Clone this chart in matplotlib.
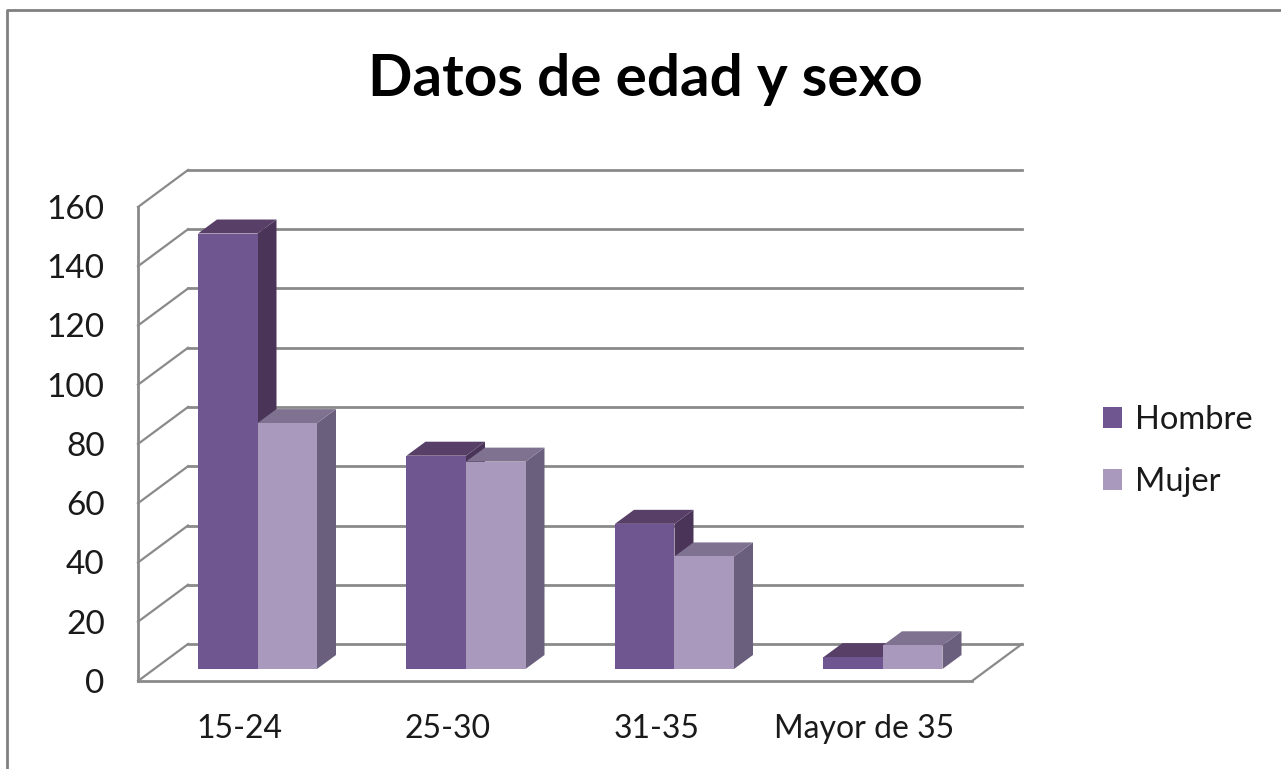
import matplotlib.pyplot as plt
from matplotlib.patches import Polygon, Patch

categories = ['15-24', '25-30', '31-35', 'Mayor de 35']
hombre = [147, 72, 49, 4]
mujer = [83, 70, 38, 8]
y_ticks = [0, 20, 40, 60, 80, 100, 120, 140, 160]

W, H = 1281, 769
FONT = 'Lato'
GRID = '#8a8a8a'
TEXT = '#1a1a1a'
H_FRONT, H_TOP, H_SIDE = '#6f5690', '#583f68', '#4a3558'
M_FRONT, M_TOP, M_SIDE = '#a899bd', '#7f7290', '#6a5f7c'

plt.rcParams['font.family'] = FONT
fig = plt.figure(figsize=(W / 100, H / 100), dpi=100)
fig.patch.set_facecolor('white')

# frame around the chart
fig.add_artist(plt.Line2D([7 / W, 7 / W, 1], [0, 1 - 10 / H, 1 - 10 / H],
                          color='#808080', lw=2))

ax = fig.add_axes([138 / W, (H - 681) / H, 834 / W, 474 / H])
ax.set_xlim(0, 4)
ax.set_ylim(0, 160)
ax.patch.set_visible(False)

# depth of the 3d box and of the bars, in data units
px_x = 4 / 834
px_y = 160 / 474
dx = 50 * px_x
dy = 37 * px_y
bar_dx = 19 * px_x
bar_dy = 14 * px_y
left = 60 * px_x
base = 12 * px_y
width = 59.5 * px_x


def poly(points, color, z):
    ax.add_patch(Polygon(points, closed=True, facecolor=color, edgecolor='none',
                         clip_on=False, zorder=z))


# back wall grid and left side wall
for v in y_ticks:
    ax.plot([dx, 4 + dx], [v + dy, v + dy], color=GRID, lw=2, clip_on=False, zorder=1)
    ax.plot([0, dx], [v, v + dy], color=GRID, lw=1.6, clip_on=False, zorder=1)
ax.plot([4, 4 + dx], [0, dy], color=GRID, lw=1.6, clip_on=False, zorder=1)


def bar3d(x0, v, front, top, side, z):
    y1 = base + v
    poly([(x0 + width, base), (x0 + width + bar_dx, base + bar_dy),
          (x0 + width + bar_dx, y1 + bar_dy), (x0 + width, y1)], side, z)
    poly([(x0, y1), (x0 + bar_dx, y1 + bar_dy),
          (x0 + width + bar_dx, y1 + bar_dy), (x0 + width, y1)], top, z)
    poly([(x0, base), (x0 + width, base), (x0 + width, y1), (x0, y1)], front, z + 0.1)


for i in range(len(categories)):
    bar3d(i + left, hombre[i], H_FRONT, H_TOP, H_SIDE, 3 + i)
    bar3d(i + left + width, mujer[i], M_FRONT, M_TOP, M_SIDE, 3.5 + i)

ax.spines['top'].set_visible(False)
ax.spines['right'].set_visible(False)
ax.spines['left'].set_color(GRID)
ax.spines['bottom'].set_color(GRID)
ax.spines['left'].set_linewidth(2)
ax.spines['bottom'].set_linewidth(2)

ax.set_yticks(y_ticks)
ax.set_xticks([i + 0.485 for i in range(len(categories))])
ax.set_xticklabels(categories)
ax.tick_params(axis='y', length=0, labelsize=24, labelcolor=TEXT, pad=24)
ax.tick_params(axis='x', length=0, labelsize=23, labelcolor=TEXT, pad=24)

fig.text(645 / W, 1 - 80 / H, 'Datos de edad y sexo', ha='center', va='center',
         fontsize=42, fontweight='bold', color='black')

handles = [Patch(facecolor=H_FRONT, label='Hombre'), Patch(facecolor=M_FRONT, label='Mujer')]
fig.legend(handles=handles, loc='center left', bbox_to_anchor=(1074 / W, 1 - 451 / H),
           frameon=False, fontsize=23.5, handlelength=0.58, handleheight=0.58,
           handletextpad=0.4, labelspacing=0.98, labelcolor=TEXT)

fig.savefig('out.png', dpi=100)
